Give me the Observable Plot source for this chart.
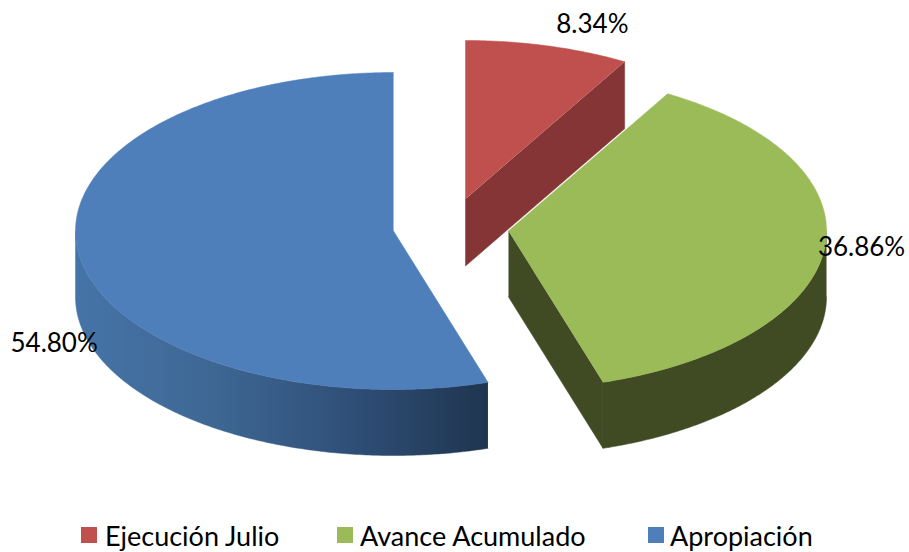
<!DOCTYPE html>
<html>
<head>
<meta charset="utf-8">
<script src="https://cdn.jsdelivr.net/npm/d3@7"></script>
<script src="https://cdn.jsdelivr.net/npm/@observablehq/plot@0.6"></script>
<style>
  html, body { margin: 0; padding: 0; background: #fff; }
  #chart svg { display: block; }
  #legend { position: relative; height: 37px; font-family: Lato, sans-serif; font-size: 27px; color: #000; }
  #legend span.item { position: absolute; top: 2px; line-height: 37px; white-space: nowrap; }
  #legend i { position: absolute; top: 12px; width: 16px; height: 16px; }
</style>
</head>
<body>
<div id="chart"></div>
<div id="legend"></div>
<script>
// Data
const categories = ["Ejecución Julio", "Avance Acumulado", "Apropiación"];
const shares = [8.34, 36.86, 54.80];
const labels = ["8.34%", "36.86%", "54.80%"];

// Styling and layout
const topColors = ["#c0504d", "#9bbb59", "#4f7fbb"];
const wallColors = ["#853535", "#404a23", "url(#blueWall)"];
const wallStops = ["#4674a8", "#3e6793", "#2f4f78", "#1f354f"];
const centers = [[465, 198.5], [508, 230.5], [393, 230.5]];
const labelOffsets = [[44.5, -21], [37, -1], [-25, 89]];
const legendX = [[81, 105], [337, 360], [648, 670]];
const rx = 318, ry = 158.5, depth = 66, redDepth = 67;
const W = 909, H = 515;

// Slice geometry derived from the shares
let cum = 0;
const slices = categories.map((name, i) => {
  const a0 = cum / 100 * 2 * Math.PI;
  cum += shares[i];
  const a1 = cum / 100 * 2 * Math.PI;
  return {name, i, a0, a1, c: centers[i]};
});
const rim = (s, a, dz = 0) => ({
  x: s.c[0] + rx * Math.sin(a),
  y: s.c[1] - ry * Math.cos(a) + dz
});
const arc = (s, from, to, dz = 0, step = 0.01) => {
  const n = Math.max(2, Math.ceil(Math.abs(to - from) / step));
  return d3.range(n + 1).map(k => rim(s, from + (to - from) * k / n, dz));
};
const topFace = s => [{x: s.c[0], y: s.c[1]}, ...arc(s, s.a0, s.a1)];
const [red, green, blue] = slices;

// Side walls
const redWall = [rim(red, red.a1), rim(red, red.a1, redDepth), {x: red.c[0], y: red.c[1] + redDepth}, {x: red.c[0], y: red.c[1]}];
const greenCut = [{x: green.c[0], y: green.c[1]}, rim(green, green.a1), rim(green, green.a1, depth), {x: green.c[0], y: green.c[1] + depth}];
const greenOuter = [...arc(green, Math.PI / 2, green.a1), ...arc(green, green.a1, Math.PI / 2, depth)];
const blueOuter = [...arc(blue, blue.a0, 3 * Math.PI / 2), ...arc(blue, 3 * Math.PI / 2, blue.a0, depth)];

// Horizontal shading of the blue wall, placed through the chart's x scale
const wallGradient = (index, scales) => {
  const defs = d3.create("svg:defs");
  const grad = defs.append("linearGradient")
    .attr("id", "blueWall")
    .attr("gradientUnits", "userSpaceOnUse")
    .attr("x1", scales.x(rim(blue, 3 * Math.PI / 2).x))
    .attr("x2", scales.x(rim(blue, blue.a0).x))
    .attr("y1", 0).attr("y2", 0);
  wallStops.forEach((c, k) => grad.append("stop")
    .attr("offset", k / (wallStops.length - 1))
    .attr("stop-color", c));
  return defs.node();
};

const face = (pts, fill) => Plot.line(pts, {x: "x", y: "y", fill, stroke: fill, strokeWidth: 0.5});

const labelData = slices.map((s, i) => {
  const m = rim(s, (s.a0 + s.a1) / 2);
  return {x: m.x + labelOffsets[i][0], y: m.y + labelOffsets[i][1], text: labels[i]};
});

const chartSvg = Plot.plot({
  width: W, height: H,
  margin: 0,
  x: {domain: [0, W], range: [0, W], axis: null},
  y: {domain: [0, H], range: [0, H], axis: null},
  marks: [
    wallGradient,
    face(redWall, wallColors[0]),
    face(topFace(red), topColors[0]),
    face(blueOuter, wallColors[2]),
    face(topFace(blue), topColors[2]),
    face(greenCut, wallColors[1]),
    face(greenOuter, wallColors[1]),
    face(topFace(green), topColors[1]),
    Plot.text(labelData, {x: "x", y: "y", text: "text", fontSize: 26, fontFamily: "Lato, sans-serif", fill: "#000"})
  ]
});
document.getElementById("chart").append(chartSvg);

const legendBox = d3.select("#legend");
categories.forEach((name, i) => {
  legendBox.append("i").style("left", legendX[i][0] + "px").style("background", topColors[i]);
  legendBox.append("span").attr("class", "item").style("left", legendX[i][1] + "px").text(name);
});
</script>
</body>
</html>
